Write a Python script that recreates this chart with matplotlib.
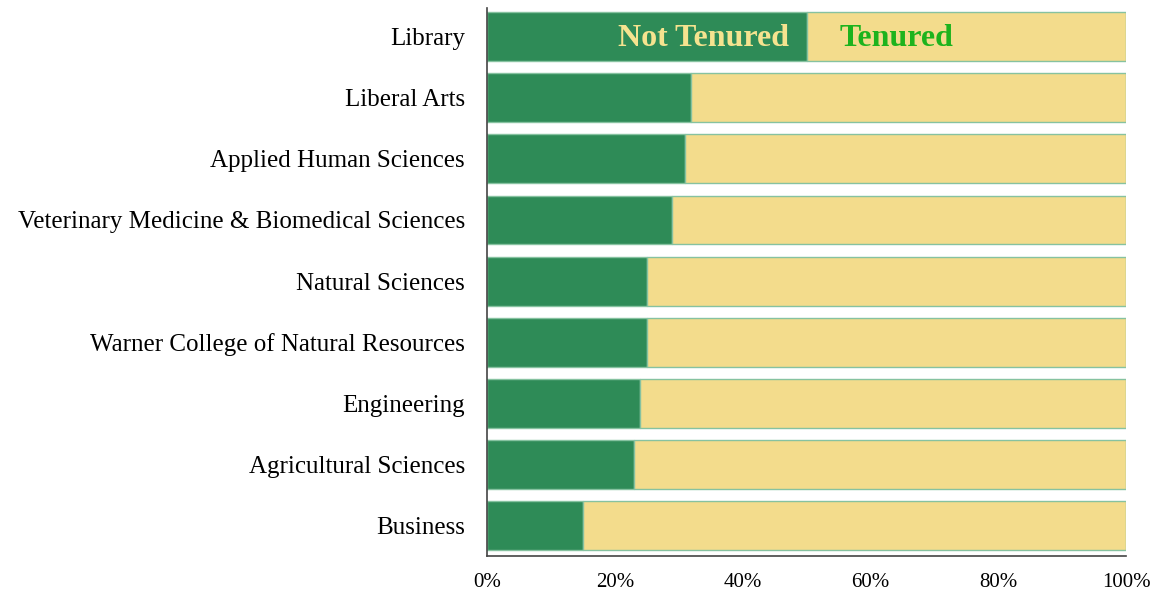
import matplotlib
matplotlib.use("Agg")
import matplotlib.pyplot as plt
import numpy as np

categories = ["Library", "Liberal Arts", "Applied Human Sciences",
              "Veterinary Medicine & Biomedical Sciences", "Natural Sciences",
              "Warner College of Natural Resources", "Engineering",
              "Agricultural Sciences", "Business"]
not_tenured = [50, 32, 31, 29, 25, 25, 24, 23, 15]
tenured = [100 - v for v in not_tenured]
xticks = [0, 20, 40, 60, 80, 100]

plt.rcParams['font.family'] = ['Liberation Serif', 'DejaVu Serif']

fig = plt.figure(figsize=(11.56, 5.93), dpi=100)
ax = fig.add_axes([487/1156, 1-556/593, (1126-487)/1156, (556-8)/593])

y = np.arange(len(categories))[::-1]
ax.barh(y, not_tenured, height=0.8, color="#2E8B57", edgecolor="#86C2A0", linewidth=1)
ax.barh(y, tenured, left=not_tenured, height=0.8, color="#F3DC8C", edgecolor="#86C2A0", linewidth=1)

ax.set_xlim(0, 100)
ax.set_ylim(-0.5, 8.47)
ax.set_yticks(y)
ax.set_yticklabels(categories, fontsize=18)
ax.set_xticks(xticks)
ax.set_xticklabels([f"{t}%" for t in xticks], fontsize=15)
ax.tick_params(axis='y', length=0, pad=16)
ax.tick_params(axis='x', length=0, pad=12)
for s in ["top", "right"]:
    ax.spines[s].set_visible(False)
ax.spines["left"].set_color("#444444")
ax.spines["bottom"].set_color("#444444")
ax.spines["left"].set_linewidth(1.2)
ax.spines["bottom"].set_linewidth(1.2)

ax.text(not_tenured[0] - 2.7, y[0] - 0.03, "Not Tenured", ha="right", va="center",
        fontsize=23, fontweight="bold", color="#F5E38F")
ax.text(not_tenured[0] + 5.2, y[0] - 0.03, "Tenured", ha="left", va="center",
        fontsize=23, fontweight="bold", color="#1DB31D")

fig.savefig("out.png", dpi=100)
